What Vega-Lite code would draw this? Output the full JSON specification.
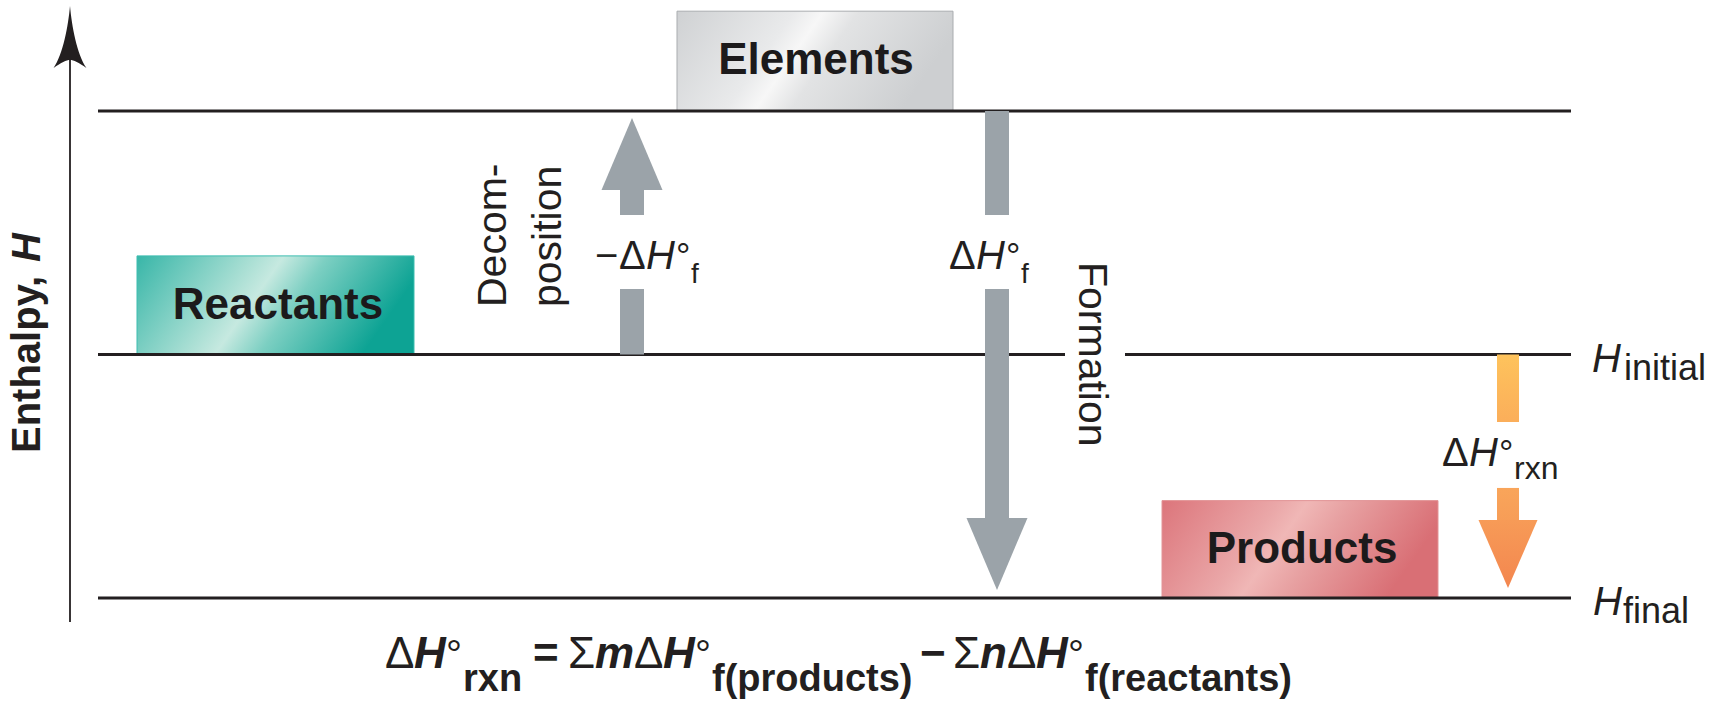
{
  "$schema": "https://vega.github.io/schema/vega-lite/v6.json",
  "width": 1711,
  "height": 702,
  "padding": 0,
  "autosize": {"type": "none"},
  "background": "#ffffff",
  "config": {"view": {"stroke": null}},
  "datasets": {
    "levels": [
      {"level": "elements", "x": 98, "x2": 1571, "v": 200},
      {"level": "initial", "x": 98, "x2": 1065, "v": 100},
      {"level": "initial", "x": 1125, "x2": 1571, "v": 100},
      {"level": "final", "x": 98, "x2": 1571, "v": 0}
    ],
    "enthalpyAxis": [{"x": 70, "v": -9.9, "v2": 221}],
    "axisHead": [{"x": 70, "v": 230.4}],
    "boxes": [
      {"box": "Elements", "x": 677, "x2": 953, "v": 200, "v2": 241},
      {"box": "Reactants", "x": 137, "x2": 414, "v": 100, "v2": 140.5},
      {"box": "Products", "x": 1162, "x2": 1438, "v": 0, "v2": 40}
    ],
    "grayShafts": [
      {"arrow": "decomposition", "x": 620, "x2": 644, "v": 100, "v2": 126.9},
      {"arrow": "decomposition", "x": 620, "x2": 644, "v": 157.3, "v2": 168},
      {"arrow": "formation", "x": 985, "x2": 1009, "v": 157.3, "v2": 200},
      {"arrow": "formation", "x": 985, "x2": 1009, "v": 32.5, "v2": 126.9}
    ],
    "headsUp": [{"arrow": "decomposition", "x": 632, "v": 182.3}],
    "headsDown": [{"arrow": "formation", "x": 997, "v": 18.1}],
    "rxnUpper": [{"x": 1497, "x2": 1519, "v": 72.3, "v2": 100}],
    "rxnLower": [{"x": 1497, "x2": 1519, "v": 31.5, "v2": 45.2}],
    "rxnHead": [{"x": 1508, "v": 18.1}],
    "labels": [
      {"role": "box", "t": "Elements", "x": 816, "v": 215.0},
      {"role": "box", "t": "Reactants", "x": 278, "v": 114.6},
      {"role": "box", "t": "Products", "x": 1302, "v": 14.4},
      {"role": "axisWord", "t": "Enthalpy,", "x": 40, "v": 59.55},
      {"role": "axisSymbol", "t": "H", "x": 40, "v": 137.99},
      {"role": "processUp", "t": "Decom-", "x": 506, "v": 119.51},
      {"role": "processUp", "t": "position", "x": 561, "v": 119.51},
      {"role": "processDown", "t": "Formation", "x": 1079, "v": 137.99},
      {"role": "labelUpright", "t": "−", "x": 595, "v": 135.11},
      {"role": "labelUpright", "t": "Δ", "x": 619, "v": 135.11},
      {"role": "labelUpright", "t": "Δ", "x": 949, "v": 135.11},
      {"role": "labelUpright", "t": "Δ", "x": 1442, "v": 54.21},
      {"role": "labelItalic", "t": "H", "x": 646, "v": 135.11},
      {"role": "labelItalic", "t": "H", "x": 976, "v": 135.11},
      {"role": "labelItalic", "t": "H", "x": 1469, "v": 54.21},
      {"role": "labelDegree", "t": "°", "x": 676, "v": 135.11},
      {"role": "labelDegree", "t": "°", "x": 1006, "v": 135.11},
      {"role": "labelDegree", "t": "°", "x": 1499, "v": 54.21},
      {"role": "labelSubF", "t": "f", "x": 691, "v": 129.36},
      {"role": "labelSubF", "t": "f", "x": 1021, "v": 129.36},
      {"role": "labelSubRxn", "t": "rxn", "x": 1514, "v": 48.87},
      {"role": "levelSymbol", "t": "H", "x": 1592, "v": 92.81},
      {"role": "levelSymbol", "t": "H", "x": 1593, "v": -6.98},
      {"role": "levelSub", "t": "initial", "x": 1624, "v": 89.53},
      {"role": "levelSub", "t": "final", "x": 1623, "v": -10.27},
      {"role": "eqOp", "t": "=", "x": 533, "v": -28.75},
      {"role": "eqOp", "t": "−", "x": 920, "v": -28.75},
      {"role": "eqGreek", "t": "Δ", "x": 385, "v": -28.75},
      {"role": "eqGreek", "t": "Σ", "x": 568, "v": -28.75},
      {"role": "eqGreek", "t": "Δ", "x": 634, "v": -28.75},
      {"role": "eqGreek", "t": "Σ", "x": 953, "v": -28.75},
      {"role": "eqGreek", "t": "Δ", "x": 1007, "v": -28.75},
      {"role": "eqItalic", "t": "H", "x": 414, "v": -28.75},
      {"role": "eqItalic", "t": "m", "x": 595, "v": -28.75},
      {"role": "eqItalic", "t": "H", "x": 663, "v": -28.75},
      {"role": "eqItalic", "t": "n", "x": 980, "v": -28.75},
      {"role": "eqItalic", "t": "H", "x": 1036, "v": -28.75},
      {"role": "eqDegree", "t": "°", "x": 446, "v": -28.75},
      {"role": "eqDegree", "t": "°", "x": 695, "v": -28.75},
      {"role": "eqDegree", "t": "°", "x": 1068, "v": -28.75},
      {"role": "eqSub", "t": "rxn", "x": 463, "v": -38.19},
      {"role": "eqSub", "t": "f(products)", "x": 712, "v": -38.19},
      {"role": "eqSub", "t": "f(reactants)", "x": 1085, "v": -38.19}
    ]
  },
  "layer": [
    {
      "data": {"name": "boxes"},
      "transform": [{"filter": "datum.box === 'Elements'"}],
      "mark": {"type": "rect", "stroke": "#a9acaf", "strokeWidth": 1,
        "fill": {"gradient": "linear", "x1": 0, "y1": 0, "x2": 1, "y2": 0.25,
          "stops": [{"offset": 0, "color": "#cfd1d3"}, {"offset": 0.4, "color": "#e9eaeb"}, {"offset": 0.5, "color": "#f7f7f7"}, {"offset": 0.62, "color": "#e2e3e4"}, {"offset": 1, "color": "#cdcfd1"}]}},
      "encoding": {
        "x": {"field": "x", "type": "quantitative", "scale": {"domain": [0, 1711], "nice": false, "zero": false}, "axis": null},
        "x2": {"field": "x2"},
        "y": {"field": "v", "type": "quantitative", "scale": {"domain": [-42.71, 245.59], "nice": false, "zero": false}, "axis": null},
        "y2": {"field": "v2"}
      }
    },
    {
      "data": {"name": "boxes"},
      "transform": [{"filter": "datum.box === 'Reactants'"}],
      "mark": {"type": "rect", "stroke": "#3dbdb0", "strokeWidth": 1,
        "fill": {"gradient": "linear", "x1": 0, "y1": 0, "x2": 1, "y2": 0.25,
          "stops": [{"offset": 0, "color": "#38b6a8"}, {"offset": 0.4, "color": "#aadfd4"}, {"offset": 0.5, "color": "#c6e9e0"}, {"offset": 0.65, "color": "#7ccfc2"}, {"offset": 1, "color": "#0da394"}]}},
      "encoding": {
        "x": {"field": "x", "type": "quantitative", "scale": {"domain": [0, 1711], "nice": false, "zero": false}, "axis": null},
        "x2": {"field": "x2"},
        "y": {"field": "v", "type": "quantitative", "scale": {"domain": [-42.71, 245.59], "nice": false, "zero": false}, "axis": null},
        "y2": {"field": "v2"}
      }
    },
    {
      "data": {"name": "boxes"},
      "transform": [{"filter": "datum.box === 'Products'"}],
      "mark": {"type": "rect", "stroke": "#e29497", "strokeWidth": 1,
        "fill": {"gradient": "linear", "x1": 0, "y1": 0, "x2": 1, "y2": 0.25,
          "stops": [{"offset": 0, "color": "#dc757b"}, {"offset": 0.4, "color": "#eaa7a8"}, {"offset": 0.5, "color": "#f0b7b6"}, {"offset": 0.65, "color": "#e7a0a1"}, {"offset": 1, "color": "#d96f75"}]}},
      "encoding": {
        "x": {"field": "x", "type": "quantitative", "scale": {"domain": [0, 1711], "nice": false, "zero": false}, "axis": null},
        "x2": {"field": "x2"},
        "y": {"field": "v", "type": "quantitative", "scale": {"domain": [-42.71, 245.59], "nice": false, "zero": false}, "axis": null},
        "y2": {"field": "v2"}
      }
    },
    {
      "data": {"name": "levels"},
      "mark": {"type": "rule", "color": "#231f20", "strokeWidth": 3},
      "encoding": {
        "x": {"field": "x", "type": "quantitative", "scale": {"domain": [0, 1711], "nice": false, "zero": false}, "axis": null},
        "x2": {"field": "x2"},
        "y": {"field": "v", "type": "quantitative", "scale": {"domain": [-42.71, 245.59], "nice": false, "zero": false}, "axis": null}
      }
    },
    {
      "data": {"name": "enthalpyAxis"},
      "mark": {"type": "rule", "color": "#231f20", "strokeWidth": 1.8},
      "encoding": {
        "x": {"field": "x", "type": "quantitative", "scale": {"domain": [0, 1711], "nice": false, "zero": false}, "axis": null},
        "y": {"field": "v", "type": "quantitative", "scale": {"domain": [-42.71, 245.59], "nice": false, "zero": false}, "axis": null},
        "y2": {"field": "v2"}
      }
    },
    {
      "data": {"name": "axisHead"},
      "mark": {"type": "point", "shape": "M0,-1C0.06,-0.35 0.22,0.55 0.53,1C0.28,0.82 0.12,0.74 0,0.74C-0.12,0.74 -0.28,0.82 -0.53,1C-0.22,0.55 -0.06,-0.35 0,-1Z", "size": 3844, "filled": true, "color": "#231f20", "opacity": 1, "strokeWidth": 0},
      "encoding": {
        "x": {"field": "x", "type": "quantitative", "scale": {"domain": [0, 1711], "nice": false, "zero": false}, "axis": null},
        "y": {"field": "v", "type": "quantitative", "scale": {"domain": [-42.71, 245.59], "nice": false, "zero": false}, "axis": null}
      }
    },
    {
      "data": {"name": "grayShafts"},
      "mark": {"type": "rect", "color": "#9ba3a9"},
      "encoding": {
        "x": {"field": "x", "type": "quantitative", "scale": {"domain": [0, 1711], "nice": false, "zero": false}, "axis": null},
        "x2": {"field": "x2"},
        "y": {"field": "v", "type": "quantitative", "scale": {"domain": [-42.71, 245.59], "nice": false, "zero": false}, "axis": null},
        "y2": {"field": "v2"}
      }
    },
    {
      "data": {"name": "headsUp"},
      "mark": {"type": "point", "shape": "M0,-1L0.847,1L-0.847,1Z", "size": 5184, "filled": true, "color": "#9ba3a9", "opacity": 1, "strokeWidth": 0},
      "encoding": {
        "x": {"field": "x", "type": "quantitative", "scale": {"domain": [0, 1711], "nice": false, "zero": false}, "axis": null},
        "y": {"field": "v", "type": "quantitative", "scale": {"domain": [-42.71, 245.59], "nice": false, "zero": false}, "axis": null}
      }
    },
    {
      "data": {"name": "headsDown"},
      "mark": {"type": "point", "shape": "M0,1L0.847,-1L-0.847,-1Z", "size": 5184, "filled": true, "color": "#9ba3a9", "opacity": 1, "strokeWidth": 0},
      "encoding": {
        "x": {"field": "x", "type": "quantitative", "scale": {"domain": [0, 1711], "nice": false, "zero": false}, "axis": null},
        "y": {"field": "v", "type": "quantitative", "scale": {"domain": [-42.71, 245.59], "nice": false, "zero": false}, "axis": null}
      }
    },
    {
      "data": {"name": "rxnUpper"},
      "mark": {"type": "rect",
        "fill": {"gradient": "linear", "x1": 0, "y1": 0, "x2": 0, "y2": 1, "stops": [{"offset": 0, "color": "#fec35c"}, {"offset": 1, "color": "#fbae5a"}]}},
      "encoding": {
        "x": {"field": "x", "type": "quantitative", "scale": {"domain": [0, 1711], "nice": false, "zero": false}, "axis": null},
        "x2": {"field": "x2"},
        "y": {"field": "v", "type": "quantitative", "scale": {"domain": [-42.71, 245.59], "nice": false, "zero": false}, "axis": null},
        "y2": {"field": "v2"}
      }
    },
    {
      "data": {"name": "rxnLower"},
      "mark": {"type": "rect",
        "fill": {"gradient": "linear", "x1": 0, "y1": 0, "x2": 0, "y2": 1, "stops": [{"offset": 0, "color": "#f9a55a"}, {"offset": 1, "color": "#f79d57"}]}},
      "encoding": {
        "x": {"field": "x", "type": "quantitative", "scale": {"domain": [0, 1711], "nice": false, "zero": false}, "axis": null},
        "x2": {"field": "x2"},
        "y": {"field": "v", "type": "quantitative", "scale": {"domain": [-42.71, 245.59], "nice": false, "zero": false}, "axis": null},
        "y2": {"field": "v2"}
      }
    },
    {
      "data": {"name": "rxnHead"},
      "mark": {"type": "point", "shape": "M0,1L0.868,-1L-0.868,-1Z", "size": 4624, "filled": true, "opacity": 1, "strokeWidth": 0,
        "fill": {"gradient": "linear", "x1": 0, "y1": 0, "x2": 0, "y2": 1, "stops": [{"offset": 0, "color": "#f79b57"}, {"offset": 1, "color": "#f3864f"}]}},
      "encoding": {
        "x": {"field": "x", "type": "quantitative", "scale": {"domain": [0, 1711], "nice": false, "zero": false}, "axis": null},
        "y": {"field": "v", "type": "quantitative", "scale": {"domain": [-42.71, 245.59], "nice": false, "zero": false}, "axis": null}
      }
    },
    {
      "data": {"name": "labels"},
      "transform": [{"filter": "datum.role === 'box'"}],
      "mark": {"type": "text", "font": "Liberation Sans", "fontSize": 44, "fontWeight": "bold", "align": "center", "baseline": "alphabetic", "color": "#1c1a1b"},
      "encoding": {
        "x": {"field": "x", "type": "quantitative", "scale": {"domain": [0, 1711], "nice": false, "zero": false}, "axis": null},
        "y": {"field": "v", "type": "quantitative", "scale": {"domain": [-42.71, 245.59], "nice": false, "zero": false}, "axis": null},
        "text": {"field": "t"}
      }
    },
    {
      "data": {"name": "labels"},
      "transform": [{"filter": "datum.role === 'axisWord'"}],
      "mark": {"type": "text", "font": "Liberation Sans", "fontSize": 40, "fontWeight": "bold", "angle": 270, "align": "left", "baseline": "alphabetic", "color": "#231f20"},
      "encoding": {
        "x": {"field": "x", "type": "quantitative", "scale": {"domain": [0, 1711], "nice": false, "zero": false}, "axis": null},
        "y": {"field": "v", "type": "quantitative", "scale": {"domain": [-42.71, 245.59], "nice": false, "zero": false}, "axis": null},
        "text": {"field": "t"}
      }
    },
    {
      "data": {"name": "labels"},
      "transform": [{"filter": "datum.role === 'axisSymbol'"}],
      "mark": {"type": "text", "font": "Liberation Sans", "fontSize": 40, "fontWeight": "bold", "fontStyle": "italic", "angle": 270, "align": "left", "baseline": "alphabetic", "color": "#231f20"},
      "encoding": {
        "x": {"field": "x", "type": "quantitative", "scale": {"domain": [0, 1711], "nice": false, "zero": false}, "axis": null},
        "y": {"field": "v", "type": "quantitative", "scale": {"domain": [-42.71, 245.59], "nice": false, "zero": false}, "axis": null},
        "text": {"field": "t"}
      }
    },
    {
      "data": {"name": "labels"},
      "transform": [{"filter": "datum.role === 'processUp'"}],
      "mark": {"type": "text", "font": "Liberation Sans", "fontSize": 41, "angle": 270, "align": "left", "baseline": "alphabetic", "color": "#231f20"},
      "encoding": {
        "x": {"field": "x", "type": "quantitative", "scale": {"domain": [0, 1711], "nice": false, "zero": false}, "axis": null},
        "y": {"field": "v", "type": "quantitative", "scale": {"domain": [-42.71, 245.59], "nice": false, "zero": false}, "axis": null},
        "text": {"field": "t"}
      }
    },
    {
      "data": {"name": "labels"},
      "transform": [{"filter": "datum.role === 'processDown'"}],
      "mark": {"type": "text", "font": "Liberation Sans", "fontSize": 41, "angle": 90, "align": "left", "baseline": "alphabetic", "color": "#231f20"},
      "encoding": {
        "x": {"field": "x", "type": "quantitative", "scale": {"domain": [0, 1711], "nice": false, "zero": false}, "axis": null},
        "y": {"field": "v", "type": "quantitative", "scale": {"domain": [-42.71, 245.59], "nice": false, "zero": false}, "axis": null},
        "text": {"field": "t"}
      }
    },
    {
      "data": {"name": "labels"},
      "transform": [{"filter": "datum.role === 'labelUpright'"}],
      "mark": {"type": "text", "font": "Liberation Sans", "fontSize": 40, "align": "left", "baseline": "alphabetic", "color": "#231f20"},
      "encoding": {
        "x": {"field": "x", "type": "quantitative", "scale": {"domain": [0, 1711], "nice": false, "zero": false}, "axis": null},
        "y": {"field": "v", "type": "quantitative", "scale": {"domain": [-42.71, 245.59], "nice": false, "zero": false}, "axis": null},
        "text": {"field": "t"}
      }
    },
    {
      "data": {"name": "labels"},
      "transform": [{"filter": "datum.role === 'labelItalic'"}],
      "mark": {"type": "text", "font": "Liberation Sans", "fontSize": 40, "fontStyle": "italic", "align": "left", "baseline": "alphabetic", "color": "#231f20"},
      "encoding": {
        "x": {"field": "x", "type": "quantitative", "scale": {"domain": [0, 1711], "nice": false, "zero": false}, "axis": null},
        "y": {"field": "v", "type": "quantitative", "scale": {"domain": [-42.71, 245.59], "nice": false, "zero": false}, "axis": null},
        "text": {"field": "t"}
      }
    },
    {
      "data": {"name": "labels"},
      "transform": [{"filter": "datum.role === 'labelDegree'"}],
      "mark": {"type": "text", "font": "Liberation Sans", "fontSize": 36, "align": "left", "baseline": "alphabetic", "color": "#231f20"},
      "encoding": {
        "x": {"field": "x", "type": "quantitative", "scale": {"domain": [0, 1711], "nice": false, "zero": false}, "axis": null},
        "y": {"field": "v", "type": "quantitative", "scale": {"domain": [-42.71, 245.59], "nice": false, "zero": false}, "axis": null},
        "text": {"field": "t"}
      }
    },
    {
      "data": {"name": "labels"},
      "transform": [{"filter": "datum.role === 'labelSubF'"}],
      "mark": {"type": "text", "font": "Liberation Sans", "fontSize": 28, "align": "left", "baseline": "alphabetic", "color": "#231f20"},
      "encoding": {
        "x": {"field": "x", "type": "quantitative", "scale": {"domain": [0, 1711], "nice": false, "zero": false}, "axis": null},
        "y": {"field": "v", "type": "quantitative", "scale": {"domain": [-42.71, 245.59], "nice": false, "zero": false}, "axis": null},
        "text": {"field": "t"}
      }
    },
    {
      "data": {"name": "labels"},
      "transform": [{"filter": "datum.role === 'labelSubRxn'"}],
      "mark": {"type": "text", "font": "Liberation Sans", "fontSize": 32, "align": "left", "baseline": "alphabetic", "color": "#231f20"},
      "encoding": {
        "x": {"field": "x", "type": "quantitative", "scale": {"domain": [0, 1711], "nice": false, "zero": false}, "axis": null},
        "y": {"field": "v", "type": "quantitative", "scale": {"domain": [-42.71, 245.59], "nice": false, "zero": false}, "axis": null},
        "text": {"field": "t"}
      }
    },
    {
      "data": {"name": "labels"},
      "transform": [{"filter": "datum.role === 'levelSymbol'"}],
      "mark": {"type": "text", "font": "Liberation Sans", "fontSize": 40, "fontStyle": "italic", "align": "left", "baseline": "alphabetic", "color": "#231f20"},
      "encoding": {
        "x": {"field": "x", "type": "quantitative", "scale": {"domain": [0, 1711], "nice": false, "zero": false}, "axis": null},
        "y": {"field": "v", "type": "quantitative", "scale": {"domain": [-42.71, 245.59], "nice": false, "zero": false}, "axis": null},
        "text": {"field": "t"}
      }
    },
    {
      "data": {"name": "labels"},
      "transform": [{"filter": "datum.role === 'levelSub'"}],
      "mark": {"type": "text", "font": "Liberation Sans", "fontSize": 36, "align": "left", "baseline": "alphabetic", "color": "#231f20"},
      "encoding": {
        "x": {"field": "x", "type": "quantitative", "scale": {"domain": [0, 1711], "nice": false, "zero": false}, "axis": null},
        "y": {"field": "v", "type": "quantitative", "scale": {"domain": [-42.71, 245.59], "nice": false, "zero": false}, "axis": null},
        "text": {"field": "t"}
      }
    },
    {
      "data": {"name": "labels"},
      "transform": [{"filter": "datum.role === 'eqOp'"}],
      "mark": {"type": "text", "font": "Liberation Sans", "fontSize": 44, "fontWeight": "bold", "align": "left", "baseline": "alphabetic", "color": "#231f20"},
      "encoding": {
        "x": {"field": "x", "type": "quantitative", "scale": {"domain": [0, 1711], "nice": false, "zero": false}, "axis": null},
        "y": {"field": "v", "type": "quantitative", "scale": {"domain": [-42.71, 245.59], "nice": false, "zero": false}, "axis": null},
        "text": {"field": "t"}
      }
    },
    {
      "data": {"name": "labels"},
      "transform": [{"filter": "datum.role === 'eqGreek'"}],
      "mark": {"type": "text", "font": "Liberation Sans", "fontSize": 44, "align": "left", "baseline": "alphabetic", "color": "#231f20"},
      "encoding": {
        "x": {"field": "x", "type": "quantitative", "scale": {"domain": [0, 1711], "nice": false, "zero": false}, "axis": null},
        "y": {"field": "v", "type": "quantitative", "scale": {"domain": [-42.71, 245.59], "nice": false, "zero": false}, "axis": null},
        "text": {"field": "t"}
      }
    },
    {
      "data": {"name": "labels"},
      "transform": [{"filter": "datum.role === 'eqItalic'"}],
      "mark": {"type": "text", "font": "Liberation Sans", "fontSize": 44, "fontWeight": "bold", "fontStyle": "italic", "align": "left", "baseline": "alphabetic", "color": "#231f20"},
      "encoding": {
        "x": {"field": "x", "type": "quantitative", "scale": {"domain": [0, 1711], "nice": false, "zero": false}, "axis": null},
        "y": {"field": "v", "type": "quantitative", "scale": {"domain": [-42.71, 245.59], "nice": false, "zero": false}, "axis": null},
        "text": {"field": "t"}
      }
    },
    {
      "data": {"name": "labels"},
      "transform": [{"filter": "datum.role === 'eqDegree'"}],
      "mark": {"type": "text", "font": "Liberation Sans", "fontSize": 40, "align": "left", "baseline": "alphabetic", "color": "#231f20"},
      "encoding": {
        "x": {"field": "x", "type": "quantitative", "scale": {"domain": [0, 1711], "nice": false, "zero": false}, "axis": null},
        "y": {"field": "v", "type": "quantitative", "scale": {"domain": [-42.71, 245.59], "nice": false, "zero": false}, "axis": null},
        "text": {"field": "t"}
      }
    },
    {
      "data": {"name": "labels"},
      "transform": [{"filter": "datum.role === 'eqSub'"}],
      "mark": {"type": "text", "font": "Liberation Sans", "fontSize": 38, "fontWeight": "bold", "align": "left", "baseline": "alphabetic", "color": "#231f20"},
      "encoding": {
        "x": {"field": "x", "type": "quantitative", "scale": {"domain": [0, 1711], "nice": false, "zero": false}, "axis": null},
        "y": {"field": "v", "type": "quantitative", "scale": {"domain": [-42.71, 245.59], "nice": false, "zero": false}, "axis": null},
        "text": {"field": "t"}
      }
    }
  ]
}
